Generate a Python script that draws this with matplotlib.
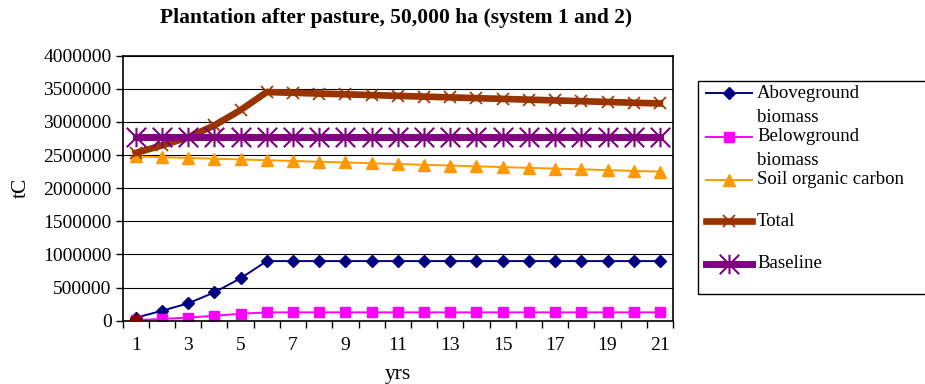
import matplotlib
matplotlib.use("Agg")
import matplotlib.pyplot as plt
from matplotlib.lines import Line2D
from matplotlib.patches import Rectangle
from matplotlib.path import Path
from matplotlib.ticker import FuncFormatter, MultipleLocator

plt.rcParams["font.family"] = ["Liberation Serif", "DejaVu Serif"]

years = list(range(1, 22))
aboveground = [45000, 150000, 262000, 428000, 640000] + [900000] * 16
belowground = [8000, 27000, 48000, 75000, 105000] + [126000] * 16
soil_carbon = [2480000, 2468000, 2457000, 2445000, 2434000, 2422000, 2411000,
               2399000, 2388000, 2376000, 2365000, 2353000, 2342000, 2330000,
               2319000, 2307000, 2296000, 2284000, 2273000, 2261000, 2250000]
total = [2533000, 2645000, 2767000, 2948000, 3179000, 3451000, 3440000,
         3428000, 3417000, 3405000, 3394000, 3382000, 3371000, 3359000,
         3348000, 3336000, 3325000, 3313000, 3302000, 3290000, 3279000]
baseline = [2780000] * 21
start_year = [1]
start_value = [0]

# Excel style star: an X crossed by a vertical bar
star = Path([(-1, -1), (1, 1), (-1, 1), (1, -1), (0, -1), (0, 1)],
            [Path.MOVETO, Path.LINETO, Path.MOVETO, Path.LINETO,
             Path.MOVETO, Path.LINETO])

series = [
    ("Aboveground\nbiomass", aboveground,
     dict(color="#000080", lw=1.4, marker="D", ms=6.5, mec="#000080")),
    ("Belowground\nbiomass", belowground,
     dict(color="#FF00FF", lw=1.4, marker="s", ms=7.5, mec="#FF00FF")),
    ("Soil organic carbon", soil_carbon,
     dict(color="#FF9900", lw=1.4, marker="^", ms=8, mec="#FF9900")),
    ("Total", total,
     dict(color="#993300", lw=4.8, marker="x", ms=8, mew=1.2, mec="#993300")),
    ("Baseline", baseline,
     dict(color="#800080", lw=5, marker=star, ms=14, mew=1.5, mec="#800080")),
]

fig = plt.figure(figsize=(9.25, 3.84), dpi=100)
ax = fig.add_axes([0.1326, 0.1648, 0.595, 0.6902])

for name, values, style in series:
    ax.plot(years, values, label=name, **style)
ax.plot(start_year, start_value, "o", color="#800000", ms=9, zorder=5)

ax.set_xlim(0.5, 21.5)
ax.set_ylim(0, 4000000)
ax.yaxis.set_major_locator(MultipleLocator(500000))
ax.yaxis.set_major_formatter(FuncFormatter(lambda v, p: f"{int(v)}"))
ax.grid(axis="y", color="black", lw=0.8)
ax.set_axisbelow(True)

ax.set_xticks(range(1, 22, 2))
ax.set_xticks([x + 0.5 for x in range(0, 22)], minor=True)
ax.tick_params(axis="x", which="major", length=0, pad=12, labelsize=14)
ax.tick_params(axis="x", which="minor", length=5, width=1, direction="out")
ax.tick_params(axis="y", length=5, width=1, labelsize=14, pad=3)
for sp in ax.spines.values():
    sp.set_linewidth(1.2)

ax.set_xlabel("yrs", fontsize=15.5, labelpad=8)
ax.set_ylabel("tC", fontsize=15.5, labelpad=9)
fig.text(0.4287, 0.952, "Plantation after pasture, 50,000 ha (system 1 and 2)",
         ha="center", va="center", fontsize=15.5, fontweight="bold")

# legend box drawn in figure pixels
W, H = 925, 384
fig.patches.append(Rectangle((698 / W, 1 - 294 / H), 240 / W, 213 / H,
                             transform=fig.transFigure, fill=False,
                             lw=1, ec="black", clip_on=False))
rows = [93, 137, 180, 221, 264]
line_gap = 24
for (name, values, style), y in zip(series, rows):
    yy = 1 - y / H
    fig.add_artist(Line2D([706 / W, 752 / W], [yy, yy], color=style["color"],
                          lw=style["lw"], transform=fig.transFigure))
    fig.add_artist(Line2D([729 / W], [yy], marker=style["marker"],
                          ms=style["ms"], mew=style.get("mew", 1),
                          color=style["color"], mec=style["mec"],
                          transform=fig.transFigure))
    for i, part in enumerate(name.split("\n")):
        fig.text(757 / W, 1 - (y + i * line_gap) / H, part,
                 ha="left", va="center", fontsize=13.5)

fig.savefig("out.png", dpi=100)
